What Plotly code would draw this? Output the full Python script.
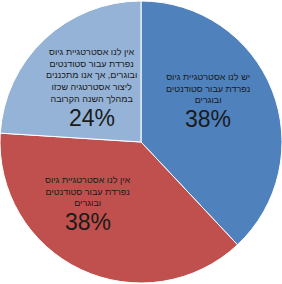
import plotly.graph_objects as go

labels = [
    "יש לנו אסטרטגיית גיוס<br>נפרדת עבור סטודנטים<br>ובוגרים",
    "אין לנו אסטרטגיית גיוס<br>נפרדת עבור סטודנטים<br>ובוגרים",
    "אין לנו אסטרטגיית גיוס<br>נפרדת עבור סטודנטים<br>ובוגרים, אך אנו מתכננים<br>ליצור אסטרטגיה שכזו<br>במהלך השנה הקרובה",
]
values = [38, 38, 24]
colors = ["#4F81BD", "#C0504D", "#95B3D7"]

# label anchor positions (paper coords) and percent positions
label_xy = [(0.738, 0.687), (0.312, 0.327), (0.326, 0.734)]
pct_xy = [(0.738, 0.581), (0.312, 0.218), (0.326, 0.583)]

fig = go.Figure(go.Pie(
    labels=[str(i) for i in range(len(values))],
    values=values,
    sort=False,
    direction="clockwise",
    rotation=0,
    marker=dict(colors=colors, line=dict(color="white", width=1)),
    textinfo="none",
    hoverinfo="skip",
    showlegend=False,
    domain=dict(x=[0, 1], y=[0, 1]),
))

font_family = "Liberation Sans, Arial, DejaVu Sans, sans-serif"
for i, (lab, v) in enumerate(zip(labels, values)):
    fig.add_annotation(
        x=label_xy[i][0], y=label_xy[i][1], xref="paper", yref="paper",
        xanchor="center", yanchor="middle",
        text=lab, showarrow=False, align="center",
        font=dict(family=font_family, size=9, color="#1a1a1a"),
    )
    fig.add_annotation(
        x=pct_xy[i][0], y=pct_xy[i][1], xref="paper", yref="paper",
        xanchor="center", yanchor="middle",
        text=f"{v}%", showarrow=False,
        font=dict(family=font_family, size=23, color="#1a1a1a"),
    )

fig.update_layout(
    width=282, height=284,
    margin=dict(l=0, r=0, t=0, b=0),
    paper_bgcolor="white", plot_bgcolor="white",
)

fig.write_html("out.html")
